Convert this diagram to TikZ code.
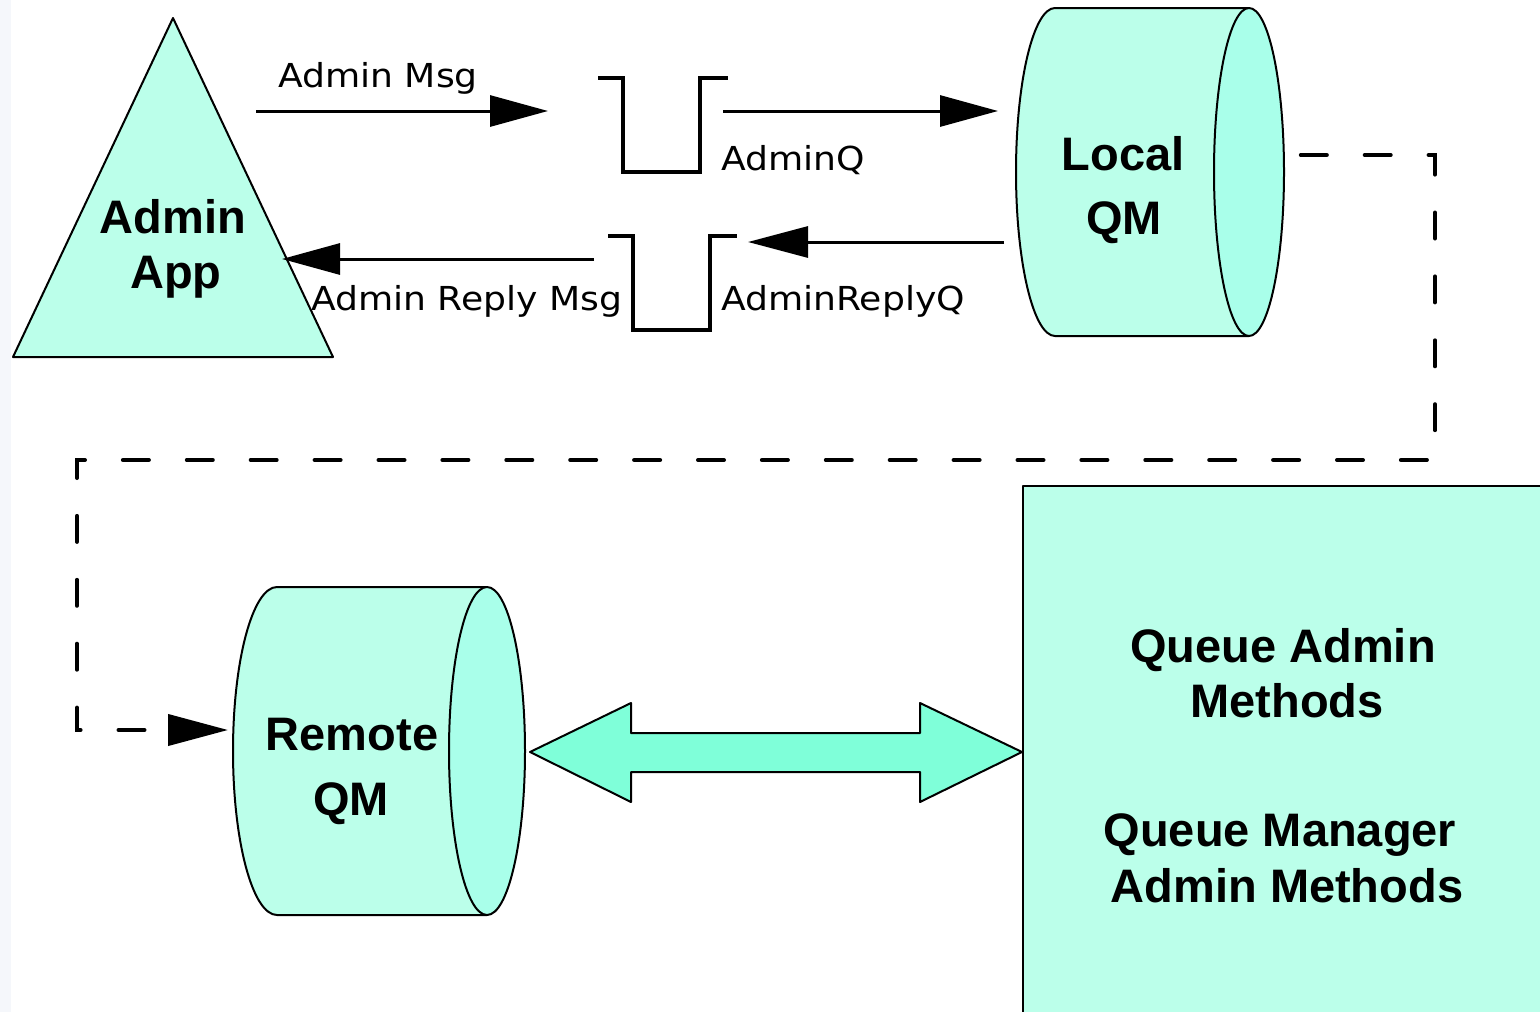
\documentclass[tikz,border=0pt]{standalone}
\usepackage{fontspec}
\setmainfont{Liberation Sans}
\newfontfamily\regfont[FakeStretch=1.095]{DejaVu Sans}
\usetikzlibrary{arrows.meta}
\definecolor{mintpale}{HTML}{BBFFEA}
\definecolor{mintend}{HTML}{A9FFEA}
\definecolor{aquafill}{HTML}{7FFFD9}
\definecolor{stripgray}{HTML}{F5F7FB}
\begin{document}
\begin{tikzpicture}[x=1pt,y=-1pt,
  shapeline/.style={draw=black,line width=2pt,line join=round},
  flow/.style={line width=3pt,-{Triangle[length=58pt,width=31pt]}},
  qline/.style={line width=3.5pt},
  boldlbl/.style={font=\fontsize{47}{54}\selectfont\bfseries,inner sep=0pt,anchor=base},
  reglbl/.style={font=\regfont\fontsize{33}{38}\selectfont,inner sep=0pt,anchor=base west},
  dashflow/.style={line width=4pt,dash pattern=on 26pt off 37.9pt,dash phase=63.1pt,line cap=round,
                   -{Triangle[length=60pt,width=31pt]}}
]
\clip (0,0) rectangle (1540,1012);
\fill[white] (0,0) rectangle (1540,1012);
\fill[stripgray] (0,0) rectangle (11,1012);

% Admin App triangle
\draw[shapeline,fill=mintpale] (173,18) coordinate (apex) -- (333,357) coordinate (triR) -- (13,357) coordinate (triL) -- cycle;
\node[boldlbl] (appA) at (173,233) {Admin};
\node[boldlbl] (appB) at (176,288) {App};

% Local QM cylinder
\draw[shapeline,fill=mintpale] (1055,8) -- (1249,8) -- (1249,336) -- (1055,336)
  arc[start angle=90,end angle=270,x radius=39,y radius=164] -- cycle;
\draw[shapeline,fill=mintend] (1249,172) ellipse[x radius=35,y radius=164];
\node[boldlbl] (localA) at (1123,170) {Local};
\node[boldlbl] (localB) at (1124,234) {QM};

% Remote QM cylinder
\draw[shapeline,fill=mintpale] (277,587) -- (487,587) -- (487,915) -- (277,915)
  arc[start angle=90,end angle=270,x radius=44,y radius=164] -- cycle;
\draw[shapeline,fill=mintend] (487,751) ellipse[x radius=38,y radius=164];
\node[boldlbl] (remA) at (352,750) {Remote};
\node[boldlbl] (remB) at (351,815) {QM};

% Methods box
\draw[shapeline,fill=mintpale] (1023,486) rectangle (1560,1030);
\node[boldlbl] (qa1) at (1283,662) {Queue Admin};
\node[boldlbl] (qa2) at (1287,717) {Methods};
\node[boldlbl] (qm1) at (1280,846) {Queue Manager};
\node[boldlbl] (qm2) at (1287,902) {Admin Methods};

% double arrow
\draw[shapeline,fill=aquafill] (530,752) coordinate (dblL) -- (631,703) -- (631,733) -- (920,733) -- (920,703)
  -- (1022,752) coordinate (dblR) -- (920,802) -- (920,772) -- (631,772) -- (631,802) -- cycle;

% queues
\draw[qline] (598,78) -- (623,78) -- (623,172) coordinate (adminq) -- (700,172) -- (700,78) -- (728,78);
\draw[qline] (608,236) -- (633,236) -- (633,330) coordinate (replyq) -- (710,330) -- (710,236) -- (737,236);

% connectors
\coordinate (msgS) at (256,111);
\coordinate (msgE) at (548,111);
\coordinate (qS) at (723,111);
\coordinate (qE) at (998,111);
\coordinate (rS) at (1004,242);
\coordinate (rE) at (748,242);
\coordinate (rmS) at (594,259);
\coordinate (rmE) at (282,259);
\draw[flow] (msgS) -- (msgE);
\draw[flow] (qS) -- (qE);
\draw[flow,-{Triangle[length=60pt,width=31pt]}] (rS) -- (rE);
\draw[flow] (rmS) -- (rmE);

\coordinate (dS) at (1300,155);
\coordinate (remIn) at (228,730);
\draw[dashflow] (dS) -- (1435,155) -- (1435,460) -- (77,460) -- (77,730) -- (remIn);

% labels
\node[reglbl] (lblMsg) at (278,87) {Admin Msg};
\node[reglbl] (lblReply) at (311,310) {Admin Reply Msg};
\node[reglbl] (lblQ) at (721,170) {AdminQ};
\node[reglbl] (lblRQ) at (721,310) {AdminReplyQ};
\end{tikzpicture}
\end{document}
